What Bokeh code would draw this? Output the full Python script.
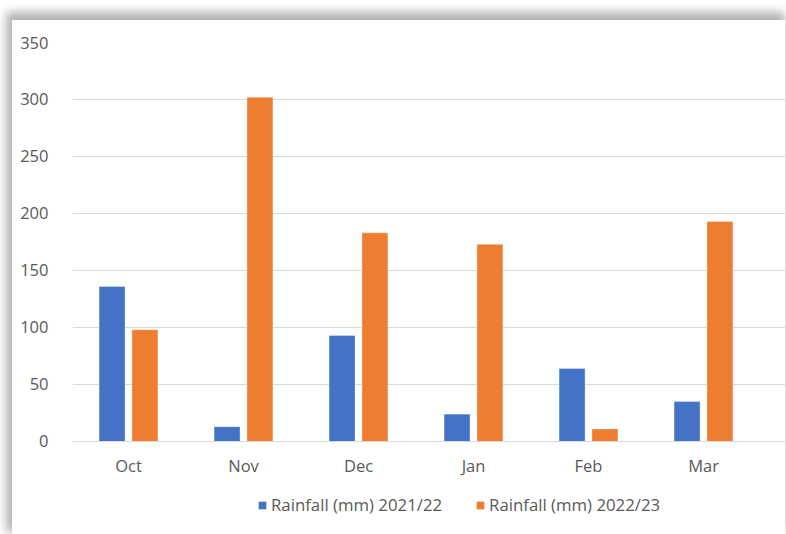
from bokeh.plotting import figure
from bokeh.models import Range1d, FixedTicker, ColumnDataSource, Legend, LegendItem
from bokeh.transform import dodge
from bokeh.embed import file_html
from bokeh.resources import INLINE

months = ["Oct", "Nov", "Dec", "Jan", "Feb", "Mar"]
rain_2122 = [136, 13, 93, 24, 64, 35]
rain_2223 = [98, 302, 183, 173, 11, 193]
y_ticks = [0, 50, 100, 150, 200, 250, 300, 350]

src = ColumnDataSource(dict(x=list(range(len(months))), a=rain_2122, b=rain_2223))

FONT = "Open Sans"
GREY = "#595959"

p = figure(width=773, height=514, output_backend="svg", toolbar_location=None,
           x_range=Range1d(-0.487, 5.713), y_range=Range1d(-81.6, 350),
           min_border_left=60, min_border_right=0, min_border_top=22, min_border_bottom=0,
           styles={"margin-left": "12px", "margin-top": "20px",
                   "box-shadow": "-3px -5px 9px 3px rgba(0,0,0,0.30)"})
p.outline_line_color = None
p.background_fill_color = "white"
p.border_fill_color = "white"

ra = p.vbar(x=dodge("x", -0.143, range=p.x_range), top="a", width=0.226, source=src,
            fill_color="#4472C4", line_color="white", line_alpha=0.35, line_width=1)
rb = p.vbar(x=dodge("x", 0.143, range=p.x_range), top="b", width=0.226, source=src,
            fill_color="#ED7D31", line_color="white", line_alpha=0.35, line_width=1)

# axes
p.xaxis.fixed_location = 0
p.xaxis.ticker = FixedTicker(ticks=list(range(len(months))))
p.xaxis.major_label_overrides = {i: m for i, m in enumerate(months)}
p.xaxis.axis_line_color = "#d9d9d9"
p.xaxis.major_tick_line_color = None
p.xaxis.minor_tick_line_color = None
p.xaxis.major_label_standoff = 7
p.xaxis.major_label_text_font = FONT
p.xaxis.major_label_text_font_size = "16.5px"
p.xaxis.major_label_text_color = GREY

p.yaxis.ticker = FixedTicker(ticks=y_ticks)
p.yaxis.axis_line_color = None
p.yaxis.major_tick_line_color = None
p.yaxis.minor_tick_line_color = None
p.yaxis.major_label_standoff = 18
p.yaxis.major_label_text_font = FONT
p.yaxis.major_label_text_font_size = "16.5px"
p.yaxis.major_label_text_color = GREY

p.xgrid.grid_line_color = None
p.ygrid.grid_line_color = "#d9d9d9"
p.ygrid.grid_line_width = 1

legend = Legend(items=[LegendItem(label="Rainfall (mm) 2021/22", renderers=[ra]),
                       LegendItem(label="Rainfall (mm) 2022/23", renderers=[rb])],
                orientation="horizontal", location=(185, 18),
                glyph_width=10, glyph_height=10, label_standoff=4, spacing=33,
                label_text_font=FONT, label_text_font_size="16.8px", label_text_color=GREY,
                background_fill_alpha=0, border_line_color=None, padding=0, margin=0)
p.add_layout(legend, "center")

open("out.html", "w").write(file_html(p, INLINE))
